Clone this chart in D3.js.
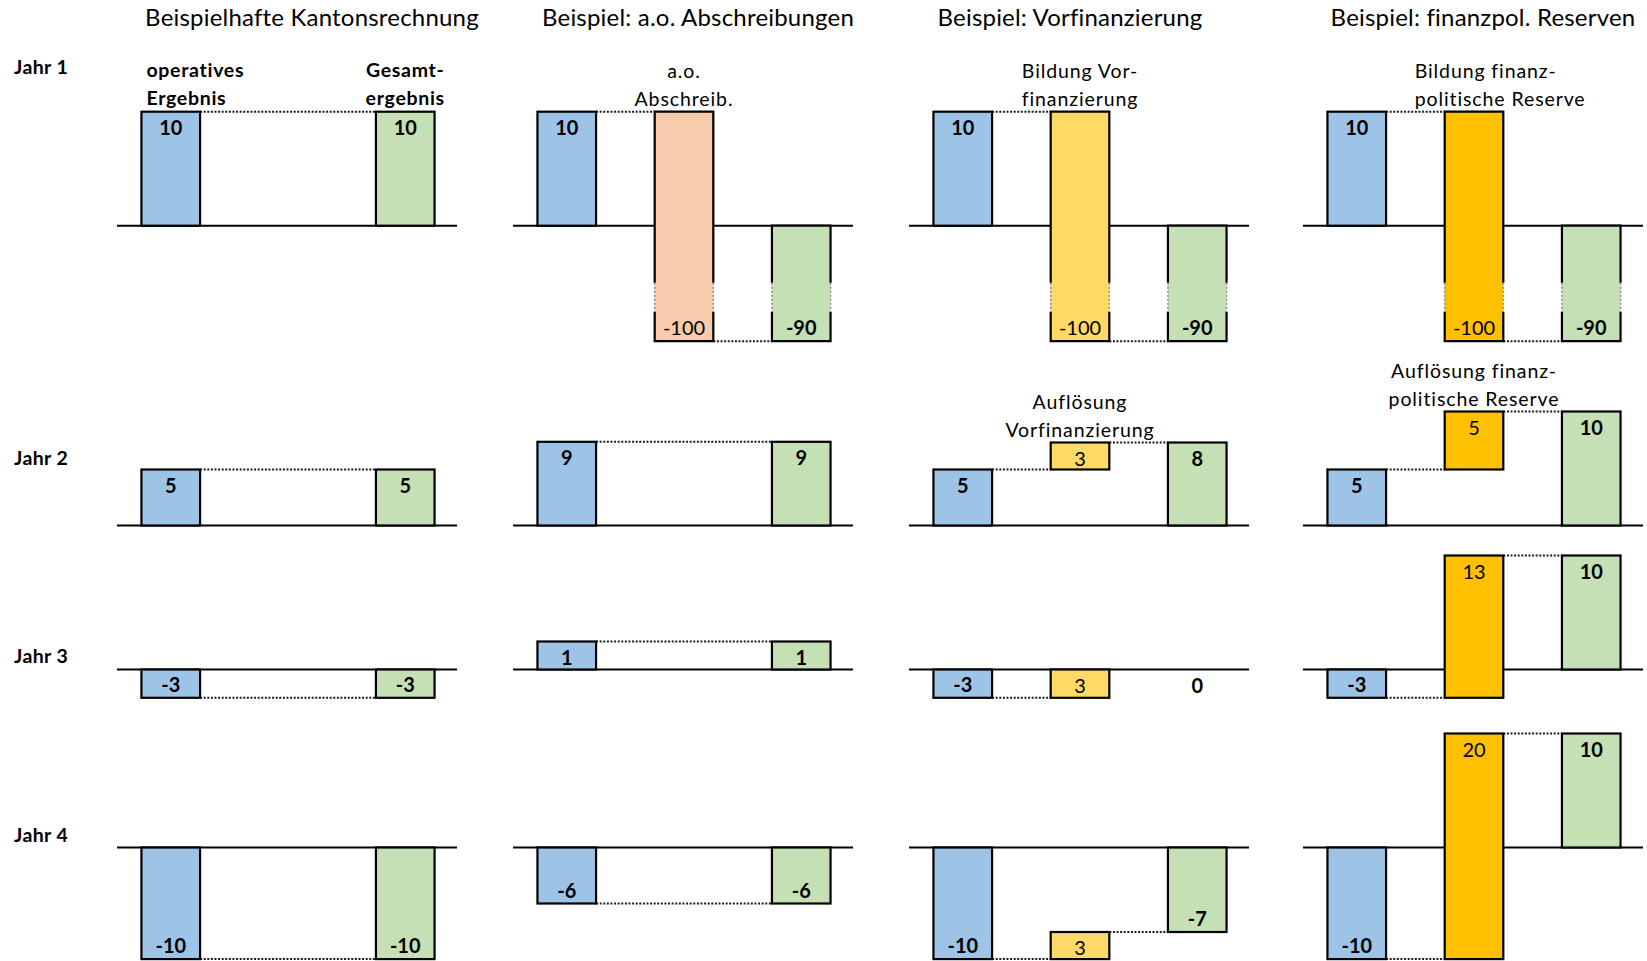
<!DOCTYPE html>
<html><head><meta charset="utf-8">
<script src="https://cdn.jsdelivr.net/npm/d3@7"></script>
<style>
html,body{margin:0;padding:0;background:#fff;}
svg{display:block;}
text{font-family:Lato,"Open Sans",sans-serif;fill:#000;}
</style></head>
<body>
<svg id="chart" width="1647" height="961"></svg>
<script>
// ---------------- DATA ----------------
const panelTitles = ["Beispielhafte Kantonsrechnung", "Beispiel: a.o. Abschreibungen", "Beispiel: Vorfinanzierung", "Beispiel: finanzpol. Reserven"];
const yearLabels = ["Jahr 1", "Jahr 2", "Jahr 3", "Jahr 4"];
const steps = ["operativ", "sonder", "gesamt"];
// [panel][year]
const operativ = [[10, 5, -3, -10], [10, 9, 1, -6], [10, 5, -3, -10], [10, 5, -3, -10]];
const sonder   = [[null, null, null, null], [-100, null, null, null], [-100, 3, 3, 3], [-100, 5, 13, 20]];
const gesamt   = [[10, 5, -3, -10], [-90, 9, 1, -6], [-90, 8, 0, -7], [-90, 10, 10, 10]];
const stepHeadOperativ = ["operatives", "Ergebnis"];
const stepHeadGesamt = ["Gesamt-", "ergebnis"];
// [panel][year] lines of the Sonderposten caption
const sonderCaptions = [
  [null, null, null, null],
  [["a.o.", "Abschreib."], null, null, null],
  [["Bildung Vor-", "finanzierung"], ["Auflösung", "Vorfinanzierung"], null, null],
  [["Bildung finanz-", "politische Reserve"], ["Auflösung finanz-", "politische Reserve"], null, null]
];
// schematic (non-proportional, broken) value axis knots, as in the original
const schemeValues = [-90, -10, -7, -6, -3, 0, 1, 5, 8, 9, 10];

// ---------------- LAYOUT / STYLE ----------------
const schemeOffsets = [-115.5, -111.6, -84.5, -56, -28.3, 0, 28, 56, 83, 83.7, 114];
const panelX0 = [117, 513, 909, 1303];
const panelW = 340;
const rowBase = [225.7, 525.5, 669.5, 847.5];
const rowLabelY = [74, 465, 663, 842];
const titleX = [312, 698, 1070, 1483];
const colors = {operativ: "#9DC3E6", gesamt: "#C5E0B4"};
const sonderColor = [null, "#F8CBAD", "#FFD966", "#FFC000"];
const breakTop = 57, breakBottom = 86;

const svg = d3.select("#chart");
const off = d3.scaleLinear().domain(schemeValues).range(schemeOffsets).clamp(true);

// titles
svg.selectAll("text.title").data(panelTitles).join("text")
  .attr("class", "title").attr("x", (d, i) => titleX[i]).attr("y", 26)
  .attr("text-anchor", "middle").style("font-size", "24px").style("letter-spacing", "0.2px").text(d => d);

// year labels
svg.selectAll("text.year").data(yearLabels).join("text")
  .attr("class", "year").attr("x", 14).attr("y", (d, i) => rowLabelY[i])
  .style("font-size", "19.5px").style("font-weight", "bold").style("letter-spacing", "0.4px").text(d => d);

panelTitles.forEach((title, p) => {
  const x = d3.scaleBand().domain(steps).range([panelX0[p] + 1, panelX0[p] + panelW + 1])
    .paddingInner(0.5).paddingOuter(0.2);
  yearLabels.forEach((yl, r) => {
    const y = v => rowBase[r] - off(v);
    const g = svg.append("g");
    // baseline
    g.append("line").attr("x1", panelX0[p]).attr("x2", panelX0[p] + panelW)
      .attr("y1", rowBase[r]).attr("y2", rowBase[r])
      .attr("stroke", "#000").attr("stroke-width", 2);

    const op = operativ[p][r], so = sonder[p][r], ge = gesamt[p][r];
    const bars = [{step: "operativ", a: 0, b: op, v: op, fill: colors.operativ, bold: true}];
    if (so !== null) bars.push({step: "sonder", a: op, b: op + so, v: so, fill: sonderColor[p], bold: false});
    bars.push({step: "gesamt", a: 0, b: ge, v: ge, fill: colors.gesamt, bold: true});

    // connectors (none needed on the zero line itself)
    for (let i = 0; i < bars.length - 1; i++) {
      const lvl = bars[i].b;
      if (lvl === 0) continue;
      g.append("line")
        .attr("x1", x(bars[i].step) + x.bandwidth()).attr("x2", x(bars[i + 1].step))
        .attr("y1", y(lvl)).attr("y2", y(lvl))
        .attr("stroke", "#1a1a1a").attr("stroke-width", 2).attr("stroke-dasharray", "2,1.6");
    }

    bars.forEach(d => {
      const x0 = x(d.step), w = x.bandwidth();
      const yt = y(Math.max(d.a, d.b)), yb = y(Math.min(d.a, d.b));
      if (yb - yt > 0.5) {
        const broken = Math.min(d.a, d.b) < -10;
        g.append("rect").attr("x", x0).attr("y", yt).attr("width", w).attr("height", yb - yt)
          .attr("fill", d.fill).attr("stroke", broken ? "none" : "#000").attr("stroke-width", 2.2);
        if (broken) {
          const b1 = rowBase[r] + breakTop, b2 = rowBase[r] + breakBottom;
          const path = `M${x0},${b1}V${yt}H${x0 + w}V${b1}M${x0},${b2}V${yb}H${x0 + w}V${b2}`;
          g.append("path").attr("d", path).attr("fill", "none").attr("stroke", "#000").attr("stroke-width", 2.2);
          [x0, x0 + w].forEach(xx => g.append("line").attr("x1", xx).attr("x2", xx)
            .attr("y1", b1).attr("y2", b2).attr("stroke", "#8a8a8a").attr("stroke-width", 1.5)
            .attr("stroke-dasharray", "2,2"));
        }
      }
      const ly = d.v >= 0 ? yt + 23 : yb - 6;
      g.append("text").attr("x", x0 + w / 2).attr("y", ly).attr("text-anchor", "middle")
        .style("font-size", "20px").style("font-weight", d.bold ? "bold" : "normal")
        .text(d.v);
    });

    // headings / captions
    if (r === 0 && p === 0) {
      const top = y(op);
      stepHeadOperativ.forEach((t, i) => g.append("text")
        .attr("x", x("operativ") + 5).attr("y", top - 7 - (1 - i) * 28)
        .style("font-size", "19.5px").style("font-weight", "bold").style("letter-spacing", "0.7px").text(t));
      stepHeadGesamt.forEach((t, i) => g.append("text")
        .attr("x", x("gesamt") + x.bandwidth() / 2).attr("y", top - 7 - (1 - i) * 28)
        .attr("text-anchor", "middle")
        .style("font-size", "19.5px").style("font-weight", "bold").style("letter-spacing", "0.7px").text(t));
    }
    const cap = sonderCaptions[p][r];
    if (cap) {
      const top = y(Math.max(op, op + so));
      const leftAligned = (p === 3 && r === 0);
      cap.forEach((t, i) => g.append("text")
        .attr("x", leftAligned ? x("sonder") - 30 : x("sonder") + x.bandwidth() / 2)
        .attr("y", top - 6 - (cap.length - 1 - i) * 27.5)
        .attr("text-anchor", leftAligned ? "start" : "middle")
        .style("font-size", "19.5px").style("letter-spacing", "0.9px").text(t));
    }
  });
});
</script>
</body></html>
